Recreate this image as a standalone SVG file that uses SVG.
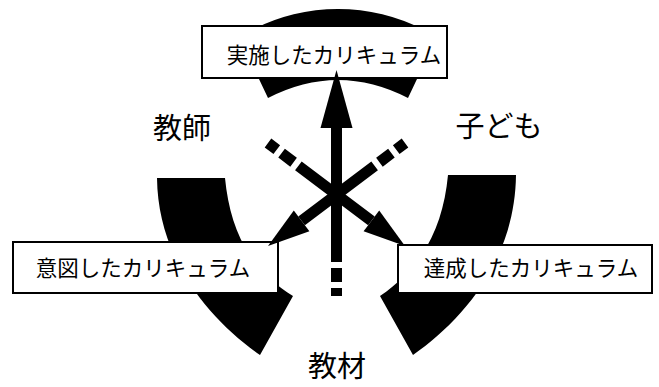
<svg xmlns="http://www.w3.org/2000/svg" width="659" height="387" viewBox="0 0 659 387">
<style>
.sector{fill:#000;stroke:none}
.box{fill:#fff;stroke:#000;stroke-width:2}
.bt{font-family:"Noto Sans CJK JP","Noto Sans",sans-serif;font-size:21.5px;fill:#000;text-anchor:middle;dominant-baseline:central}
.lbl{font-family:"Noto Sans CJK JP","Noto Sans",sans-serif;font-size:29px;fill:#000;text-anchor:middle;dominant-baseline:central}
.shaft{stroke:#000;stroke-width:11;fill:none;stroke-linecap:butt}
.head{fill:#000}
</style>
<g id="ring">
<path class="sector" d="M268,98 L250,60 L252,30 A187 187 0 0 1 424,30 L426,60 L408,98 Q338,62 268,98 Z"/>
<path class="sector" d="M157,178 L225,178 C230,230 250,270 293,296 L260,355 C210,320 158,260 157,178 Z"/>
<path class="sector" d="M516,175 L448,175 C443,227 423,267 380,296 L413,355 C463,320 515,260 516,175 Z"/>
</g>
<g id="node-top">
<rect class="box" x="202" y="26" width="245" height="52"/>
</g>
<g id="node-left">
<rect class="box" x="13" y="242" width="265" height="51"/>
</g>
<g id="node-right">
<rect class="box" x="398" y="245" width="254" height="48"/>
</g>
<g id="connectors">
<line class="shaft" x1="336.5" y1="296" x2="336.5" y2="126" stroke-dasharray="8 6 14 6 500"/>
<polygon class="head" points="336.5,70 352.5,128 320.5,128"/>
<line class="shaft" x1="268" y1="143" x2="371.4" y2="220.8" stroke-dasharray="11 6 15 6 500"/>
<polygon class="head" points="405,246 363.6,231.2 379.2,210.4"/>
<line class="shaft" x1="405" y1="143" x2="301.6" y2="220.8" stroke-dasharray="11 6 15 6 500"/>
<polygon class="head" points="268,246 309.4,231.2 293.8,210.4"/>
</g>
<g id="texts">
<text class="bt" x="334" y="53">実施したカリキュラム</text>
<text class="bt" x="143" y="266">意図したカリキュラム</text>
<text class="bt" x="531" y="266">達成したカリキュラム</text>
<text class="lbl" x="182" y="126">教師</text>
<text class="lbl" x="499" y="124">子ども</text>
<text class="lbl" x="337" y="364">教材</text>
</g>
</svg>
